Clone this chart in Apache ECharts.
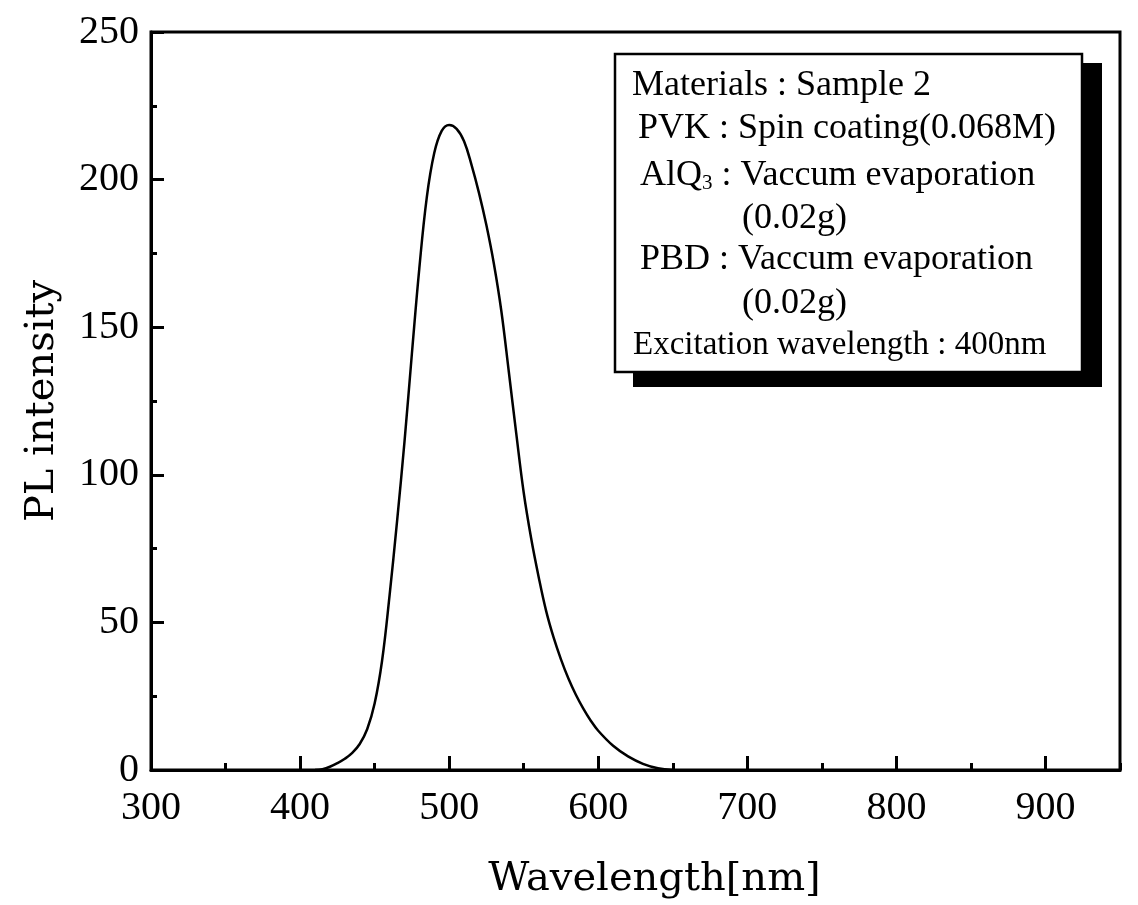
<!DOCTYPE html>
<html lang="en">
<head>
    <meta charset="UTF-8">
    <title>PL spectrum</title>
    <style type="text/css">
        html, body { margin: 0; padding: 0; background: #fff; }
        #plchart { width: 1138px; height: 905px; }
    </style>
    <script src="https://cdn.jsdelivr.net/npm/echarts@6/dist/echarts.min.js"></script>
</head>
<body>
<div id="plchart"></div>
<script type="application/javascript">
    // spectrum (nm, intensity)
    var wavelength = [410, 415, 420, 425, 430, 435, 440, 445, 450, 455, 460, 465, 470, 475, 480, 485, 490, 495,
        500, 505, 510, 515, 520, 525, 530, 535, 540, 545, 550, 555, 560, 565, 570, 575, 580, 585, 590, 595,
        600, 610, 620, 630, 640, 650];
    var intensity = [0, 0.3, 1.1, 2.3, 3.8, 5.8, 8.8, 13.8, 22.5, 37, 59, 84, 111, 141, 170, 194, 209, 216.5,
        218.5, 217.2, 213, 205, 195.5, 184.5, 171.5, 155.5, 135, 114, 94, 78.5, 65.5, 54, 45, 37.5, 31, 25.5, 20.8, 16.7,
        13.3, 8.2, 4.6, 2.1, 0.6, 0];

    var xTicks = [300, 400, 500, 600, 700, 800, 900];
    var yTicks = [0, 50, 100, 150, 200, 250];

    var infoLines = [
        'Materials : Sample 2',
        'PVK : Spin coating(0.068M)',
        'AlQ{sub|3} : Vaccum evaporation',
        '(0.02g)',
        'PBD : Vaccum evaporation',
        '(0.02g)',
        'Excitation wavelength : 400nm'
    ];

    var points = [];
    for (var i = 0; i < wavelength.length; i++) {
        points.push([wavelength[i], intensity[i]]);
    }

    var lineX = [632, 638, 640, 742, 640, 742, 633];
    var lineY = [86, 129, 176, 219, 260, 304, 345];
    var lineSize = [36, 36, 36, 36, 36, 36, 33];

    var graphics = [
        {type: 'rect', shape: {x: 633, y: 63, width: 469, height: 324}, style: {fill: '#000'}, z: 100},
        {type: 'rect', shape: {x: 615, y: 54, width: 467, height: 318}, style: {fill: '#fff', stroke: '#000', lineWidth: 2.5}, z: 101}
    ];
    for (var j = 0; j < infoLines.length; j++) {
        graphics.push({
            type: 'text', z: 102,
            style: {
                text: infoLines[j], x: lineX[j], y: lineY[j],
                font: lineSize[j] + 'px "Liberation Serif"', fill: '#000', verticalAlign: 'middle',
                rich: {
                    sub: {fontSize: 21, fontFamily: 'Liberation Serif', verticalAlign: 'bottom', lineHeight: 21, fill: '#000'}
                }
            }
        });
    }

    var myChart = echarts.init(document.getElementById('plchart'));
    var serifTick = {color: '#000', fontFamily: 'Liberation Serif', fontSize: 40};

    var option = {
        animation: false,
        backgroundColor: '#fff',
        grid: {
            left: 151, right: 18, top: 32, bottom: 134,
            show: true, borderColor: '#000', borderWidth: 3
        },
        xAxis: [
            {
                type: 'value', min: 300, max: 950, interval: 100,
                name: 'Wavelength[nm]', nameLocation: 'middle', nameGap: 90,
                nameTextStyle: {color: '#000', fontFamily: 'DejaVu Serif', fontSize: 40, padding: [0, 0, 0, 38]},
                axisLine: {show: true, lineStyle: {color: '#000', width: 3}},
                axisTick: {show: true, inside: true, length: 14, lineStyle: {color: '#000', width: 3}},
                axisLabel: {
                    margin: 18, showMaxLabel: false,
                    formatter: function (v) { return xTicks.indexOf(v) >= 0 ? String(v) : ''; },
                    textStyle: serifTick
                },
                splitLine: {show: false}
            },
            {
                type: 'value', min: 300, max: 950, interval: 50, position: 'bottom',
                axisLine: {show: false},
                axisTick: {show: true, inside: true, length: 7, lineStyle: {color: '#000', width: 3}},
                axisLabel: {show: false},
                splitLine: {show: false}
            }
        ],
        yAxis: {
            type: 'value', min: 0, max: 250, interval: 50,
            name: 'PL intensity', nameLocation: 'middle', nameGap: 88,
            nameTextStyle: {color: '#000', fontFamily: 'DejaVu Serif', fontSize: 40},
            axisLine: {show: true, lineStyle: {color: '#000', width: 3}},
            axisTick: {show: true, inside: true, length: 13, lineStyle: {color: '#000', width: 3}},
            minorTick: {show: true, splitNumber: 2, length: 6, lineStyle: {color: '#000', width: 3}},
            axisLabel: {
                margin: 12,
                formatter: function (v) { return yTicks.indexOf(v) >= 0 ? String(v) : ''; },
                textStyle: serifTick
            },
            splitLine: {show: false}
        },
        series: [
            {
                name: 'PL', type: 'line', xAxisIndex: 0,
                smooth: 0.4, symbol: 'none',
                lineStyle: {color: '#000', width: 2.5},
                data: points
            }
        ],
        graphic: graphics
    };
    myChart.setOption(option);
</script>
</body>
</html>
